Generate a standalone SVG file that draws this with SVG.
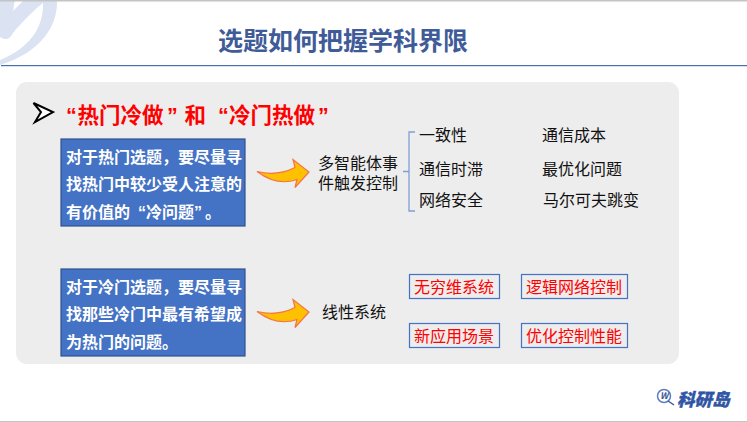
<svg xmlns="http://www.w3.org/2000/svg" width="747" height="422" viewBox="0 0 747 422">
<style>
text{font-family:"Noto Sans CJK SC","Liberation Sans",sans-serif}
.q{font-family:"Liberation Sans","Noto Sans CJK SC",sans-serif}
.t{font-size:16px;fill:#111}
.w{font-size:16px;fill:#fff;font-weight:700}
.h{font-size:21.500px;fill:#f00;font-weight:700}
.r{font-size:16px;fill:#f00;text-anchor:middle}
.b{fill:#ededed;stroke:#4472c4;stroke-width:1.2}
.blue{fill:#4472c4;stroke:#2f528f;stroke-width:1.2}
.arrow{fill:#ffc000;stroke:#f4734a;stroke-width:1.2}
</style>
<defs>
<path id="arr" d="M0 0C12 3 26 2 38 -4L36 -12L52 0.500L38 16L40 8C26 13 12 9 0 0Z" class="arrow"/>
</defs>
<rect width="747" height="422" fill="#fff"/>
<g id="watermark">
<path d="M0 0H57C58 25 42 52 0 65V60C20 52 44 35 43 3C34 10 22 22 13 33C10 39 6 41 0 37Z" fill="#dbe3f2"/>
<path d="M15 0H24L13 11Z" fill="#fff"/>
</g>
<rect width="747" height="1.500" fill="#c4c4c4"/>
<rect id="rule" x="1" y="65" width="746" height="1.200" fill="#4a6fae"/>
<g id="title"><text x="343" y="50" text-anchor="middle" font-size="25" font-weight="700" fill="#3f5b98">选题如何把握学科界限</text></g>
<rect id="panel" x="16" y="82" width="663" height="282" rx="11" fill="#ededed"/>
<g id="heading">
<path d="M33.500 103L53 112L35 122L41 112Z" fill="#fff" stroke="#000" stroke-width="2"/>
<text class="h" y="123"><tspan class="q" x="66">“</tspan><tspan x="77.500">热门冷做</tspan><tspan class="q" x="167">”</tspan><tspan x="184.500">和</tspan><tspan class="q" x="218">“</tspan><tspan x="229">冷门热做</tspan><tspan class="q" x="318">”</tspan></text>
</g>
<g id="box1">
<rect class="blue" x="61" y="139" width="184" height="87"/>
<text class="w" x="66" y="163">对于热门选题，要尽量寻</text>
<text class="w" x="66" y="190">找热门中较少受人注意的</text>
<text class="w" x="66" y="218">有价值的<tspan class="q" x="138">“</tspan><tspan x="146">冷问题</tspan><tspan class="q" x="194">”</tspan><tspan x="205">。</tspan></text>
</g>
<g id="box2">
<rect class="blue" x="61" y="269" width="184" height="87"/>
<text class="w" x="66" y="293">对于冷门选题，要尽量寻</text>
<text class="w" x="66" y="320">找那些冷门中最有希望成</text>
<text class="w" x="66" y="348">为热门的问题。</text>
</g>
<g id="connectors">
<use href="#arr" x="257" y="171.500"/>
<use href="#arr" x="257" y="311.500"/>
<path d="M415 132H409V211H415M409 171.500H403" fill="none" stroke="#7f9fd6" stroke-width="1.300"/>
</g>
<g id="node-event">
<text class="t" y="169"><tspan x="318">多智能体事</tspan><tspan x="318" y="189">件触发控制</tspan></text>
</g>
<g id="items">
<text class="t" x="419" y="141">一致性</text>
<text class="t" x="419" y="175">通信时滞</text>
<text class="t" x="419" y="206">网络安全</text>
<text class="t" x="542" y="141">通信成本</text>
<text class="t" x="542" y="175">最优化问题</text>
<text class="t" x="543" y="206">马尔可夫跳变</text>
</g>
<g id="node-linear"><text class="t" x="322" y="318">线性系统</text></g>
<g id="tag1"><rect class="b" x="409.500" y="274.500" width="90" height="24"/><text class="r" x="454" y="292.500">无穷维系统</text></g>
<g id="tag2"><rect class="b" x="521.500" y="274.500" width="106" height="24"/><text class="r" x="574" y="292.500">逻辑网络控制</text></g>
<g id="tag3"><rect class="b" x="409.500" y="323.500" width="90" height="24"/><text class="r" x="454" y="341.500">新应用场景</text></g>
<g id="tag4"><rect class="b" x="521.500" y="323.500" width="106" height="24"/><text class="r" x="574" y="341.500">优化控制性能</text></g>
<g id="logo">
<circle cx="664" cy="396" r="6.500" fill="none" stroke="#5b7fc0" stroke-width="1.500"/>
<path d="M668 401L674 405" stroke="#3f5b98" stroke-width="1.500"/>
<text x="660" y="399" font-size="9" font-weight="700" font-style="italic" fill="#3f5b98" font-family="Liberation Sans">W</text>
<text x="677" y="405.500" font-size="17.500" font-weight="900" font-style="italic" fill="#2f55a4" stroke="#2f55a4" stroke-width=".4">科研岛</text>
</g>
<rect id="bottom" y="421" width="747" height="1" fill="#c4c4c4"/>
</svg>
